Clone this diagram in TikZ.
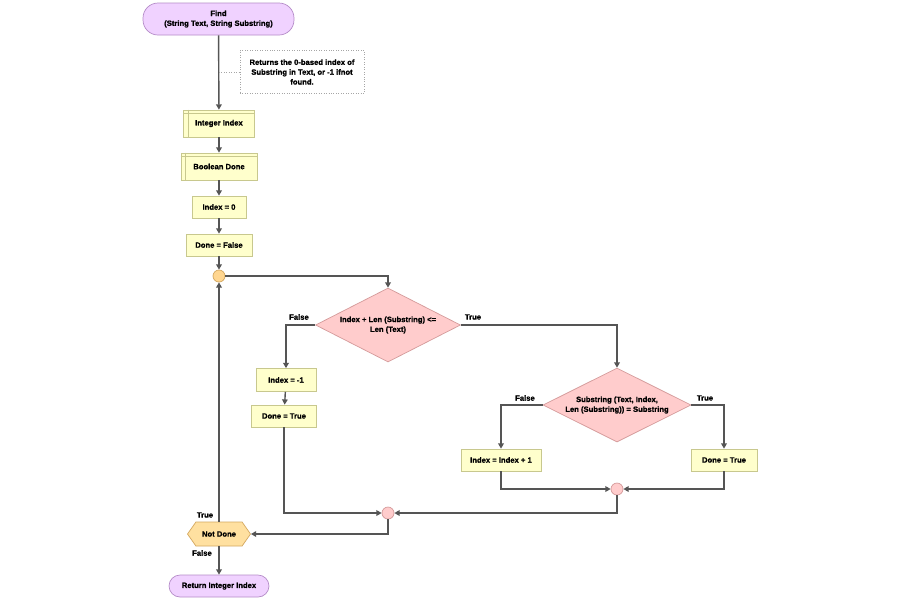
\documentclass[tikz,border=0pt]{standalone}
\usepackage{fontspec}
\setmainfont{Liberation Sans}[FakeBold=1.2]
\usepackage{tikz}
\usetikzlibrary{positioning,calc,arrows.meta,shapes.geometric,shapes.symbols}
\usepackage{xcolor}

\definecolor{termfill}{HTML}{F0D2FF}
\definecolor{termline}{HTML}{B58CC8}
\definecolor{procfill}{HTML}{FFFFCC}
\definecolor{procline}{HTML}{C8C88E}
\definecolor{decfill}{HTML}{FFCCCC}
\definecolor{decline}{HTML}{D49A9A}
\definecolor{loopfill}{HTML}{FFE0A0}
\definecolor{loopline}{HTML}{D4A860}
\definecolor{flowline}{HTML}{555555}

\tikzset{
  every node/.style={font=\fontsize{4.35}{5.6}\selectfont\bfseries},
  terminal/.style={draw=termline, fill=termfill, rounded corners=0.3cm, align=center, inner sep=0},
  process/.style={draw=procline, fill=procfill, minimum height=0.44cm, inner sep=0},
  storage/.style={process, minimum height=0.54cm},
  decision/.style={diamond, shape aspect=2, draw=decline, fill=decfill, align=center, inner sep=0,
    minimum width=2.9cm, minimum height=1.48cm},
  junction/.style={circle, draw=decline, fill=decfill, minimum size=0.24cm, inner sep=0},
  loopjoint/.style={junction, draw=loopline, fill=loopfill!90!orange},
  looptest/.style={signal, signal to=west and east, signal pointer angle=110,
    draw=loopline, fill=loopfill, minimum width=1.26cm, minimum height=0.48cm, inner sep=0},
  note/.style={draw=gray!70, densely dotted, align=center, inner sep=0,
    minimum width=2.48cm, minimum height=0.86cm},
  flow/.style={draw=flowline, line width=0.8pt, -{Triangle[length=3pt,width=3.2pt]}},
  branch/.style={},
}

\begin{document}
\begin{tikzpicture}[x=0.02cm, y=-0.02cm]
\useasboundingbox[fill=white] (0,0) rectangle (900,600);

% start and comment
\node (find) at (218.5,19) [terminal, minimum width=3.02cm, minimum height=0.64cm]
  {Find\\(String Text, String Substring)};
\node (note) at (302,72) [note]
  {Returns the 0-based index of\\Substring in Text, or -1 ifnot\\found.};
\coordinate (tap) at (219,72);

% declarations and initialisation
\node (intidx) at (219,123.5) [storage, minimum width=1.42cm] {Integer Index};
\node (booldone) at (219,166.5) [storage, minimum width=1.52cm] {Boolean Done};
\foreach \n in {intidx,booldone} {
  \draw[procline] ([xshift=5*0.02cm]\n.north west) -- ([xshift=5*0.02cm]\n.south west);
  \draw[procline] ([yshift=-4*0.02cm]\n.north west) -- ([yshift=-4*0.02cm]\n.north east);
}
\node (idxzero) at (219,207) [process, minimum width=1.08cm] {Index = 0};
\node (donefalse) at (219,245) [process, minimum width=1.32cm] {Done = False};
\node (joinloop) at (219,276) [loopjoint] {};

% outer test
\node (testlen) at (388,325) [decision] {Index + Len (Substring) <=\\Len (Text)};
\node (idxminus) at (286,380) [process, minimum width=1.2cm, minimum height=0.46cm] {Index = -1};
\node (donetrueA) at (284,416) [process, minimum width=1.3cm] {Done = True};

% inner test
\node (testsub) at (617,405) [decision, minimum width=2.96cm]
  {Substring (Text, Index,\\Len (Substring)) = Substring};
\node (idxinc) at (501,460) [process, minimum width=1.6cm] {Index = Index + 1};
\node (donetrueB) at (724,460) [process, minimum width=1.32cm] {Done = True};
\node (joinsub) at (617,489) [junction] {};
\node (joinlen) at (388,513) [junction] {};

% loop test and end
\node (notdone) at (219,534) [looptest] {Not Done};
\node (ret) at (219,586) [terminal, minimum width=2.0cm, minimum height=0.44cm, rounded corners=0.22cm]
  {Return Integer Index};

% connectors
\draw[flow] (find) -- (intidx);
\draw[gray!70, densely dotted] (tap) -- (note.west);
\draw[flow] (intidx) -- (booldone);
\draw[flow] (booldone) -- (idxzero);
\draw[flow] (idxzero) -- (donefalse);
\draw[flow] (donefalse) -- (joinloop);
\draw[flow] (joinloop.east) -| (testlen.north);
\draw[flow] (testlen.west) -| (idxminus.north);
\draw[flow] (testlen.east) -| (testsub.north);
\draw[flow] (idxminus) -- (donetrueA);
\draw[flow] (testsub.west) -| (idxinc.north);
\draw[flow] (testsub.east) -| (donetrueB.north);
\draw[flow] (idxinc.south) |- (joinsub.west);
\draw[flow] (donetrueB.south) |- (joinsub.east);
\draw[flow] (joinsub.south) |- (joinlen.east);
\draw[flow] (donetrueA.south) |- (joinlen.west);
\draw[flow] (joinlen.south) |- (notdone.east);
\draw[flow] (notdone.north) -- (joinloop.south);
\draw[flow] (notdone.south) -- (ret.north);

% branch labels
\node (lenF) at (299,317) [branch] {False};
\node (lenT) at (473,317) [branch] {True};
\node (subF) at (525,398) [branch] {False};
\node (subT) at (705,398) [branch] {True};
\node (loopT) at (205,515) [branch] {True};
\node (loopF) at (202,553) [branch] {False};
\end{tikzpicture}
\end{document}
